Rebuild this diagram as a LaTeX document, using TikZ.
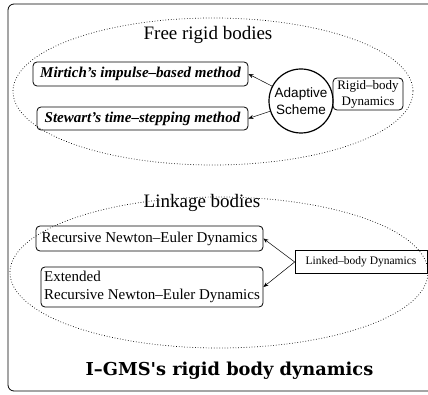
\documentclass[tikz,border=0pt]{standalone}
\usepackage{fontspec}
\setmainfont{Liberation Serif}
\newfontfamily\hvfont{Liberation Sans}
\newfontfamily\titlefont{DejaVu Serif}
\usetikzlibrary{arrows.meta}
\begin{document}
\begin{tikzpicture}[x=1pt,y=-1pt,
  rbox/.style={draw,line width=0.8pt,rounded corners=4pt,inner sep=3pt},
  sbox/.style={draw,line width=0.6pt,inner sep=3pt},
  zone/.style={draw,dotted,line width=0.7pt},
  arr/.style={-{Stealth[length=5pt,width=4pt]},line width=0.5pt}]
\useasboundingbox (0,0) rectangle (428,395);
\begin{scope}
\clip (0,0) rectangle (428,395);
\draw[line width=0.8pt,rounded corners=6pt] (8,4) rectangle (445,391);
\end{scope}
% zones
\draw[zone] (213,91.5) ellipse [x radius=200,y radius=73.5];
\draw[zone] (219,272.5) ellipse [x radius=209,y radius=75.5];
\node[font=\fontsize{19}{22}\selectfont] (free) at (208,35) {Free rigid bodies};
\node[font=\fontsize{19}{22}\selectfont] (link) at (202,203) {Linkage bodies};
% free rigid bodies
\node[rbox,minimum width=215pt,minimum height=24pt,font=\fontsize{15}{17}\selectfont\bfseries\itshape] (mir) at (140.5,74) {Mirtich's impulse–based method};
\node[rbox,minimum width=211pt,minimum height=23pt,font=\fontsize{15}{17}\selectfont\bfseries\itshape] (ste) at (142.5,118.5) {Stewart's time–stepping method};
\node[draw,circle,line width=1.2pt,minimum size=64pt,inner sep=0pt,align=center,font=\hvfont\fontsize{13.5}{17}\selectfont] (ada) at (301,101) {Adaptive\\Scheme};
\node[rbox,minimum width=70pt,minimum height=32pt,inner sep=2pt,align=center,font=\fontsize{13}{16}\selectfont] (rbd) at (368,94) {Rigid–body\\Dynamics};
\draw[arr] (ada) -- (mir.east);
\draw[arr] (ada) -- (ste.east);
% linkage bodies
\node[rbox,minimum width=227pt,minimum height=25pt,font=\fontsize{15}{17}\selectfont] (rne) at (149.5,238.5) {Recursive Newton–Euler Dynamics};
\node[rbox,minimum width=222pt,minimum height=40pt,align=left,font=\fontsize{15}{18}\selectfont] (ern) at (152,287) {Extended\\Recursive Newton–Euler Dynamics};
\node[sbox,minimum width=132pt,minimum height=23pt,font=\fontsize{11.5}{14}\selectfont] (lbd) at (361,262) {Linked–body Dynamics};
\draw[arr] (lbd.west) -- (rne.east);
\draw[arr] (lbd.west) -- (ern.east);
% title
\node[font=\titlefont\bfseries\fontsize{17.8}{20}\selectfont] (title) at (229.5,371) {I–GMS's rigid body dynamics};
\end{tikzpicture}
\end{document}
